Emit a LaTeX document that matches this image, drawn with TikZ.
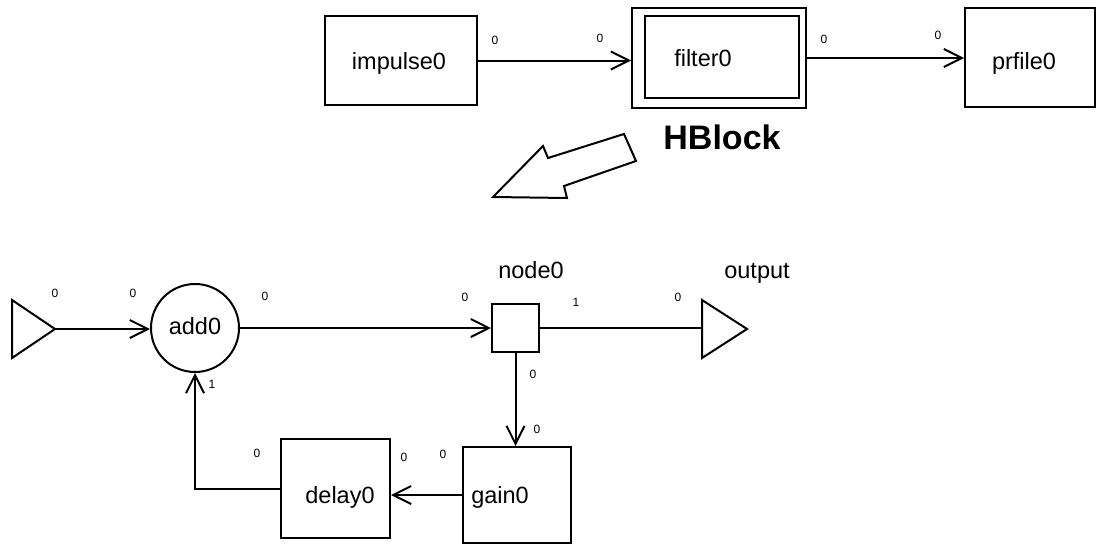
\documentclass[tikz,border=0pt]{standalone}
\usepackage{fontspec}
\setmainfont{Liberation Sans}
\usetikzlibrary{arrows.meta,calc}
\begin{document}
\begin{tikzpicture}[x=1pt,y=-1pt,
  line width=2pt,
  arr/.style={-{Straight Barb[length=18pt,width=18pt,line width=2pt]}},
  blk/.style={draw,rectangle,inner sep=0pt,fill=white},
  txt/.style={font=\fontsize{23.5}{26}\selectfont,inner sep=0pt},
  lbl/.style={font=\fontsize{12}{14}\selectfont,inner sep=0pt},
  tri/.style={draw,fill=white,line join=miter}]
\useasboundingbox (0,0) rectangle (1099,546);
% top row
\node[blk,minimum width=152pt,minimum height=89pt] (impulse0) at (401,60.5) {};
\node[txt] (timp) at (399,63) {impulse0};
\node[blk,minimum width=174pt,minimum height=100pt] (filterO) at (719,58) {};
\node[blk,minimum width=154pt,minimum height=82pt] (filter0) at (722,57) {};
\node[txt] (tfil) at (703,58) {filter0};
\node[blk,minimum width=130pt,minimum height=99pt] (prfile0) at (1030,57.5) {};
\node[txt] (tprf) at (1024,63) {prfile0};
\draw[arr] (impulse0.east) -- (impulse0.east -| filterO.west);
\draw[arr] (filterO.east) -- (filterO.east -| prfile0.west);
\node[lbl] (l1) at (495,40) {0};
\node[lbl] (l2) at (600,38) {0};
\node[lbl] (l3) at (824,39) {0};
\node[lbl] (l4) at (938,35) {0};
\node[font=\bfseries\fontsize{34}{38}\selectfont,inner sep=0pt] (hb) at (722,137) {HBlock};
% big hollow arrow
\draw[line join=miter,fill=white] (493,197) -- (543,146) -- (548,158) -- (624,134) -- (636,161) -- (564,186) -- (567,198) -- cycle;
% bottom
\draw[tri] (12,300) -- (12,358) -- (55,329) -- cycle;
\coordinate (inp) at (55,329);
\node[draw,circle,minimum size=88pt,inner sep=0pt,fill=white] (add0) at (195,328) {};
\node[txt] (tadd) at (195,326) {add0};
\node[blk,minimum width=47pt,minimum height=48pt] (node0) at (515.5,328) {};
\draw[tri] (702,300) -- (702,358) -- (747,329) -- cycle;
\coordinate (outp) at (702,328);
\node[blk,minimum width=108pt,minimum height=96pt] (gain0) at (517,495) {};
\node[txt] (tgain) at (500,497) {gain0};
\node[blk,minimum width=109pt,minimum height=99pt] (delay0) at (335.5,488.5) {};
\node[txt] (tdel) at (340,497) {delay0};
\draw[arr] (inp) -- (inp -| add0.west);
\draw[arr] (add0.east) -- (node0.west);
\draw (node0.east) -- (outp);
\draw[arr] (node0.south) -- (node0.south |- gain0.north);
\draw[arr] (gain0.west) -- (gain0.west -| delay0.east);
\draw[arr] (delay0.west) -| (add0.south);
\node[txt] (tnode) at (531,270) {node0};
\node[txt] (tout) at (757,273) {output};
\node[lbl] (b1) at (55,293) {0};
\node[lbl] (b2) at (133,293) {0};
\node[lbl] (b3) at (265,296) {0};
\node[lbl] (b4) at (212,384) {1};
\node[lbl] (b5) at (465,297) {0};
\node[lbl] (b6) at (576,302) {1};
\node[lbl] (b7) at (678,297) {0};
\node[lbl] (b8) at (533,374) {0};
\node[lbl] (b9) at (537,429) {0};
\node[lbl] (b10) at (257,453) {0};
\node[lbl] (b11) at (404,457) {0};
\node[lbl] (b12) at (443,454) {0};
\end{tikzpicture}
\end{document}
